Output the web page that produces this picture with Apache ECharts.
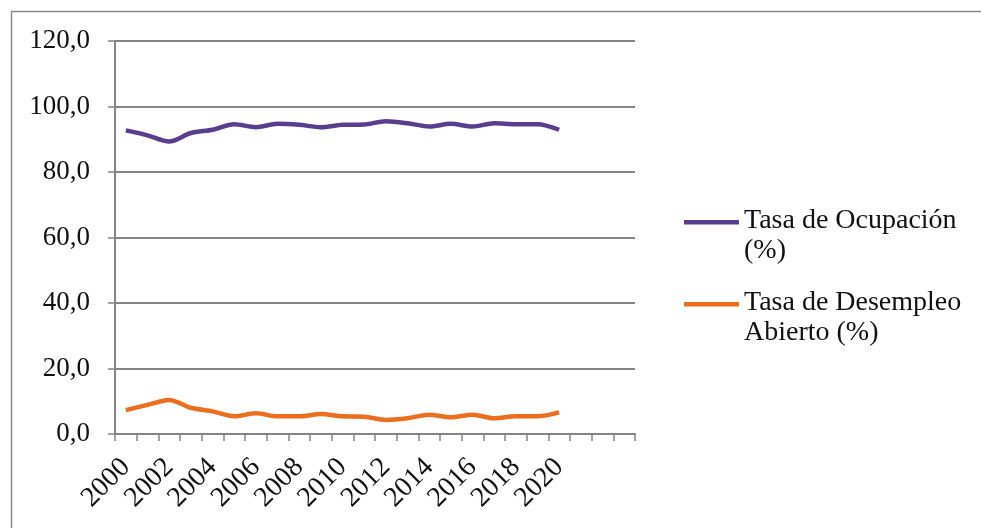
<!DOCTYPE html>
<html>
<head>
<meta charset="utf-8">
<script src="https://cdn.jsdelivr.net/npm/echarts@6/dist/echarts.min.js"></script>
<style>
  html, body { margin: 0; padding: 0; background: #fff; }
  #chart { width: 981px; height: 528px; }
</style>
</head>
<body>
<div id="chart"></div>
<script>
// años (las tres últimas categorías quedan vacías, como en el original)
var years = ['2000','2001','2002','2003','2004','2005','2006','2007','2008','2009','2010',
  '2011','2012','2013','2014','2015','2016','2017','2018','2019','2020','','',''];
var ocupacion = [92.7,91.2,89.3,91.9,92.9,94.6,93.7,94.7,94.4,93.7,94.4,
  94.5,95.5,94.9,93.9,94.7,93.9,94.9,94.6,94.6,92.9];
var desempleo = [7.3,8.9,10.4,8.0,6.9,5.4,6.3,5.4,5.4,6.1,5.4,
  5.3,4.3,4.8,5.9,5.1,5.9,4.8,5.4,5.4,6.6];
var yTicks = [0, 20, 40, 60, 80, 100, 120];

var serif = '"Liberation Serif", "DejaVu Serif", serif';
var gridColor = '#858585';
// icono de leyenda: línea arriba + punto casi invisible abajo para alinear con la 1a línea de texto
var legendIcon = 'path://M0,0H55V4.5H0Z M0,32H0.01V32.01H0Z';

var chart = echarts.init(document.getElementById('chart'));
chart.setOption({
  animation: false,
  backgroundColor: '#fff',
  graphic: [{
    type: 'rect',
    shape: { x: 11.5, y: 11.5, width: 1000, height: 1000 },
    style: { fill: 'none', stroke: '#8a8a8a', lineWidth: 1.5 },
    silent: true
  }],
  grid: { left: 115, top: 41, width: 520, height: 393, containLabel: false },
  legend: {
    orient: 'vertical',
    left: 684,
    top: 206,
    padding: 0,
    itemGap: 22,
    itemWidth: 55,
    itemHeight: 32,
    icon: legendIcon,
    textStyle: { fontFamily: serif, fontSize: 28, lineHeight: 30, color: '#111' },
    data: ['Tasa de Ocupación\n(%)', 'Tasa de Desempleo\nAbierto (%)']
  },
  xAxis: {
    type: 'category',
    data: years,
    boundaryGap: true,
    axisLine: { lineStyle: { color: gridColor, width: 2 } },
    axisTick: { show: true, length: 7, interval: 0, lineStyle: { color: gridColor, width: 1.5 } },
    axisLabel: {
      interval: 1,
      rotate: 45,
      margin: 29,
      fontFamily: serif,
      fontSize: 28,
      color: '#111'
    },
    splitLine: { show: false }
  },
  yAxis: {
    type: 'value',
    min: yTicks[0],
    max: yTicks[yTicks.length - 1],
    interval: 20,
    axisLine: { show: true, lineStyle: { color: gridColor, width: 2 } },
    axisTick: { show: true, length: 7, lineStyle: { color: gridColor, width: 1.5 } },
    axisLabel: {
      margin: 25,
      fontFamily: serif,
      fontSize: 27,
      color: '#111',
      formatter: function (v) { return v.toFixed(1).replace('.', ','); }
    },
    splitLine: { show: true, lineStyle: { color: gridColor, width: 2 } }
  },
  series: [{
    name: 'Tasa de Ocupación\n(%)',
    type: 'line',
    data: ocupacion,
    smooth: 0.3,
    symbol: 'none',
    color: '#5a3e8e',
    lineStyle: { width: 4.5, color: '#5a3e8e' }
  }, {
    name: 'Tasa de Desempleo\nAbierto (%)',
    type: 'line',
    data: desempleo,
    smooth: 0.3,
    symbol: 'none',
    color: '#ec6f1f',
    lineStyle: { width: 4.5, color: '#ec6f1f' }
  }]
});
</script>
</body>
</html>
